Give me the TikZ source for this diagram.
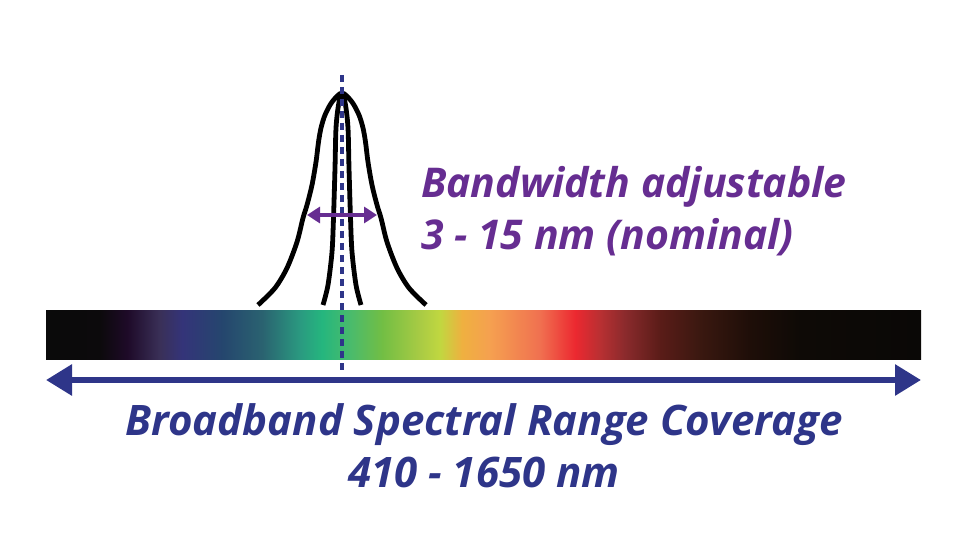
\documentclass[tikz,border=0pt]{standalone}
\usepackage{fontspec}
\setmainfont{Open Sans}
\usetikzlibrary{arrows.meta,positioning,calc}

\definecolor{rangeblue}{HTML}{2E3589}
\definecolor{bwpurple}{HTML}{662D91}
% spectrum stops
\definecolor{sp01}{HTML}{0A0A0A}
\definecolor{sp02}{HTML}{0C0A0C}
\definecolor{sp03}{HTML}{1E0A28}
\definecolor{sp04}{HTML}{3A3058}
\definecolor{sp05}{HTML}{343479}
\definecolor{sp06}{HTML}{25466E}
\definecolor{sp07}{HTML}{2A6270}
\definecolor{sp08}{HTML}{2A9A80}
\definecolor{sp09}{HTML}{25B67E}
\definecolor{sp10}{HTML}{4CBB6A}
\definecolor{sp11}{HTML}{72BE44}
\definecolor{sp12}{HTML}{A9CB44}
\definecolor{sp13}{HTML}{C1D740}
\definecolor{sp14}{HTML}{EFB040}
\definecolor{sp15}{HTML}{F5A050}
\definecolor{sp16}{HTML}{F07050}
\definecolor{sp17}{HTML}{EC2830}
\definecolor{sp18}{HTML}{B83032}
\definecolor{sp19}{HTML}{8A2A2C}
\definecolor{sp20}{HTML}{5A1C18}
\definecolor{sp21}{HTML}{3A1810}
\definecolor{sp22}{HTML}{1E0E08}
\definecolor{sp23}{HTML}{0E0A06}
\definecolor{sp24}{HTML}{0A0806}
\pgfdeclarehorizontalshading{spectrum}{100bp}{
  color(0bp)=(sp01); color(25bp)=(sp01); color(28.09bp)=(sp02);
  color(29.63bp)=(sp03); color(31.51bp)=(sp04); color(32.77bp)=(sp05);
  color(35.06bp)=(sp06); color(37.34bp)=(sp07); color(39.51bp)=(sp08);
  color(40.77bp)=(sp09); color(42.49bp)=(sp10); color(44.2bp)=(sp11);
  color(46.37bp)=(sp12); color(47.51bp)=(sp13); color(48.77bp)=(sp14);
  color(50.37bp)=(sp15); color(53.23bp)=(sp16); color(55.23bp)=(sp17);
  color(56.66bp)=(sp18); color(58.09bp)=(sp19); color(60.09bp)=(sp20);
  color(62.37bp)=(sp21); color(65.23bp)=(sp22); color(68.09bp)=(sp23);
  color(75bp)=(sp24); color(100bp)=(sp24)}

\tikzset{
  peak/.style={line width=4.8pt,black},
  caption/.style={font=\fontsize{42}{52}\selectfont\bfseries\itshape,text=rangeblue,align=center,inner sep=0pt},
  bwlabel/.style={font=\fontsize{41}{52}\selectfont\bfseries\itshape,text=bwpurple,align=left,inner sep=0pt}
}

\begin{document}
\begin{tikzpicture}[x=1pt,y=-1pt]
\useasboundingbox (0,0) rectangle (960,537);
% spectrum bar
\node[shading=spectrum,minimum width=875pt,minimum height=49pt,inner sep=0pt,anchor=north west] (bar) at (46,310) {};
\coordinate (lend) at (46,380);
\coordinate (rend) at (921,380);
\draw[rangeblue,line width=6pt,{Triangle[length=26pt,width=30pt]}-{Triangle[length=26pt,width=30pt]}] (lend) -- (rend);
% filter curves
\draw[peak] plot[smooth,tension=0.5] coordinates {(258,305) (275,288) (287,268) (297,242) (303,218) (307,205) (312,185) (316,162) (318.5,142) (321,128) (325,115) (332,102) (342,93) (352,102) (359,115) (363,128) (365.5,142) (368,162) (372,185) (377,205) (381,218) (387,242) (397,268) (409,288) (426,305)};
\draw[peak] plot[smooth,tension=0.5] coordinates {(323,305) (328,285) (332,252) (333.5,218) (335,168) (336,128) (338.5,105) (342,93) (345.5,105) (348,128) (349,168) (350.5,218) (352,252) (356,285) (361,305)};
% centre line
\coordinate (ctop) at (342,75);
\coordinate (cbot) at (342,370);
\draw[rangeblue,line width=3.5pt,dash pattern=on 7pt off 5pt] (ctop) -- (cbot);
% bandwidth arrow
\coordinate (bwl) at (307,215);
\coordinate (bwr) at (377,215);
\draw[bwpurple,line width=3.5pt,{Triangle[length=13pt,width=16pt]}-{Triangle[length=13pt,width=16pt]}] (bwl) -- (bwr);
% labels
\node[bwlabel,anchor=base west] (bw) at (421,250) {Bandwidth adjustable\\3 - 15 nm (nominal)};
\node[caption,anchor=base] (range) at (484,487) {Broadband Spectral Range Coverage\\410 - 1650 nm};
\end{tikzpicture}
\end{document}
